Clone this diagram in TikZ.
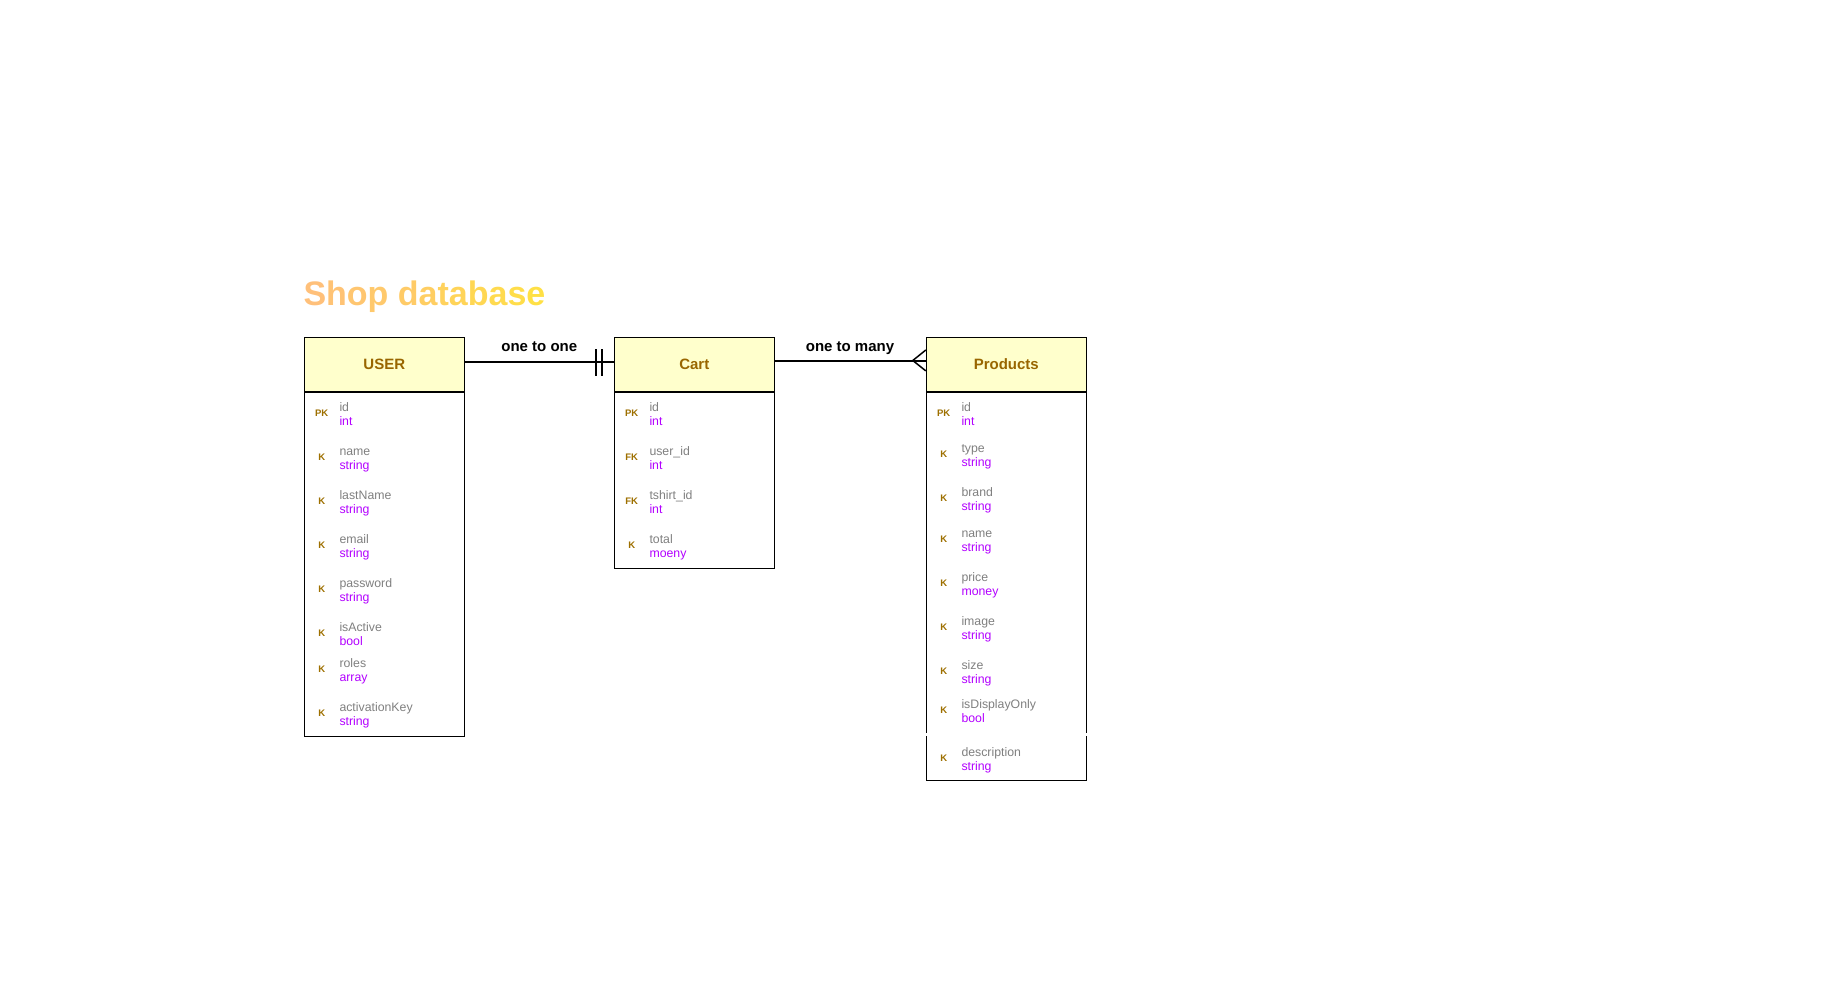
\documentclass[tikz,border=0pt]{standalone}
\usepackage{fontspec}
\setmainfont{Liberation Sans}
\definecolor{hdrfill}{HTML}{FFFFCC}
\definecolor{hdrtext}{HTML}{996600}
\definecolor{keytext}{HTML}{9E7000}
\definecolor{fgrey}{HTML}{808080}
\definecolor{fpurple}{HTML}{B300FF}
\definecolor{tA}{HTML}{FFC07A}
\definecolor{tB}{HTML}{FFE045}
\newcommand\erow[6]{%
  \node[keylbl] (#1k) at (#5+17.4,#6) {#2};
  \node[fname] (#1n) at (#5+35,#6-1.8) {#3};
  \node[ftype] (#1t) at (#5+35,#6+12.2) {#4};}
\newcommand\tl[2]{{\color{tB!#1!tA}#2}}
\begin{document}
\begin{tikzpicture}[x=1pt,y=-1pt,
  hdr/.style={draw=black, line width=1pt, fill=hdrfill, minimum width=160pt, minimum height=54pt, inner sep=0pt, text=hdrtext, font=\fontsize{15}{17}\selectfont\bfseries},
  tbody/.style={draw=black, line width=1pt, fill=white, minimum width=160pt, inner sep=0pt, anchor=north},
  keylbl/.style={inner sep=0pt, text=keytext, font=\fontsize{9.5}{11}\selectfont\bfseries},
  fname/.style={inner sep=0pt, anchor=base west, text=fgrey, font=\fontsize{12.3}{14}\selectfont},
  ftype/.style={inner sep=0pt, anchor=base west, text=fpurple, font=\fontsize{12.3}{14}\selectfont},
  conn/.style={draw=black, line width=2pt},
  bar/.style={draw=black, line width=1.7pt},
  crow/.style={draw=black, line width=1.5pt},
  rel/.style={inner sep=0pt, anchor=base, font=\fontsize{15}{17}\selectfont\bfseries}]
\path[use as bounding box] (0,0) rectangle (1836,1006);

% title
\node[inner sep=0pt, anchor=base west, font=\fontsize{34}{38}\selectfont\bfseries] (title) at (303.3,305)
 {\tl{0}{S}\tl{9}{h}\tl{18}{o}\tl{27}{p} \tl{36}{d}\tl{45}{a}\tl{55}{t}\tl{64}{a}\tl{73}{b}\tl{82}{a}\tl{91}{s}\tl{100}{e}};

% USER table
\node[hdr] (user) at (384.3,364.3) {USER};
\node[tbody, minimum height=344pt] (userb) at (user.south) {};
\erow{u1}{PK}{id}{int}{304.3}{413.3}
\erow{u2}{K}{name}{string}{304.3}{457.3}
\erow{u3}{K}{lastName}{string}{304.3}{501.3}
\erow{u4}{K}{email}{string}{304.3}{545.3}
\erow{u5}{K}{password}{string}{304.3}{589.3}
\erow{u6}{K}{isActive}{bool}{304.3}{633.3}
\erow{u7}{K}{roles}{array}{304.3}{669.3}
\erow{u8}{K}{activationKey}{string}{304.3}{713.3}

% Cart table
\node[hdr] (cart) at (694.3,364.3) {Cart};
\node[tbody, minimum height=176pt] (cartb) at (cart.south) {};
\erow{c1}{PK}{id}{int}{614.3}{413.7}
\erow{c2}{FK}{user\_id}{int}{614.3}{457.7}
\erow{c3}{FK}{tshirt\_id}{int}{614.3}{501.7}
\erow{c4}{K}{total}{moeny}{614.3}{545.7}

% Products table
\node[hdr] (prod) at (1006.3,364.3) {Products};
\node[tbody, minimum height=388pt] (prodb) at (prod.south) {};
\fill[white] (924.5,733) rectangle (928,736);
\fill[white] (1084.5,733) rectangle (1088,736);
\erow{p1}{PK}{id}{int}{926.3}{413.7}
\erow{p2}{K}{type}{string}{926.3}{454.7}
\erow{p3}{K}{brand}{string}{926.3}{498.7}
\erow{p4}{K}{name}{string}{926.3}{539.7}
\erow{p5}{K}{price}{money}{926.3}{583.7}
\erow{p6}{K}{image}{string}{926.3}{627.7}
\erow{p7}{K}{size}{string}{926.3}{671.7}
\erow{p8}{K}{isDisplayOnly}{bool}{926.3}{710.7}
\erow{p9}{K}{description}{string}{926.3}{758}

% one to one
\draw[conn] ([yshift=2.6pt]user.east) -- ([yshift=2.6pt]cart.west);
\draw[bar] ([xshift=-17.6pt,yshift=15.3pt]cart.west) -- ([xshift=-17.6pt,yshift=-11.4pt]cart.west);
\draw[bar] ([xshift=-11.6pt,yshift=15.3pt]cart.west) -- ([xshift=-11.6pt,yshift=-11.4pt]cart.west);
\node[rel] (rel1) at (539.3,351.7) {one to one};

% one to many
\draw[conn] ([yshift=3.8pt]cart.east) -- ([yshift=3.8pt]prod.west);
\draw[crow] ([yshift=14.3pt]prod.west) .. controls ([xshift=-6pt,yshift=9pt]prod.west) .. ([xshift=-13pt,yshift=3.8pt]prod.west) .. controls ([xshift=-6pt,yshift=-1.5pt]prod.west) .. ([yshift=-6.6pt]prod.west);
\node[rel] (rel2) at (850,351.7) {one to many};
\end{tikzpicture}
\end{document}
